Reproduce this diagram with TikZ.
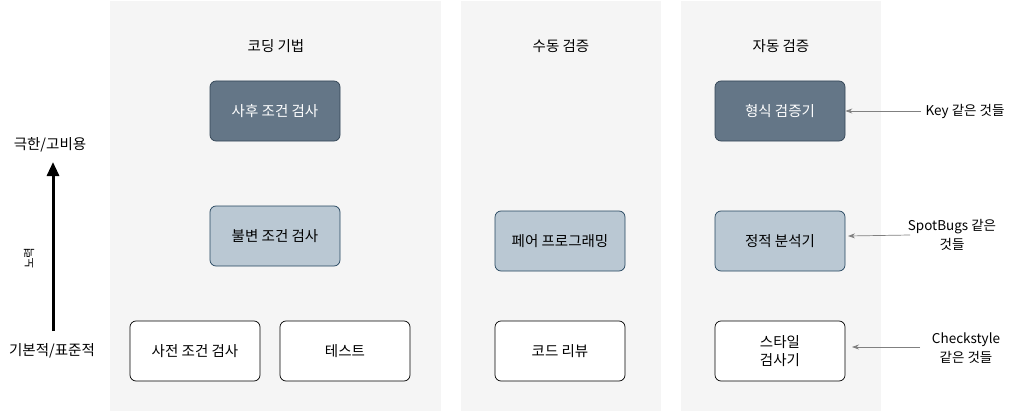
\documentclass[tikz,border=0pt]{standalone}
\usepackage{fontspec}
\setmainfont{Noto Sans CJK KR}
\usetikzlibrary{arrows.meta}
\definecolor{panelbg}{HTML}{F5F5F5}
\definecolor{darkfill}{HTML}{647687}
\definecolor{darkline}{HTML}{314354}
\definecolor{lightfill}{HTML}{BAC8D3}
\definecolor{lightline}{HTML}{23445D}
\definecolor{arrowgray}{HTML}{808080}
\tikzset{
  panel/.style={fill=panelbg, draw=none},
  box/.style={rounded corners=6pt, minimum width=130pt, minimum height=60pt, font=\fontsize{14.5}{18}\selectfont, align=center, line width=0.7pt},
  whitebox/.style={box, draw=black, fill=white},
  lightbox/.style={box, draw=lightline, fill=lightfill},
  darkbox/.style={box, draw=darkline, fill=darkfill, text=white},
  title/.style={font=\fontsize{14.5}{18}\selectfont},
  note/.style={font=\fontsize{13.5}{19}\selectfont, align=center},
  pointer/.style={draw=arrowgray, line width=0.7pt, -{Stealth[length=7pt,width=5pt]}},
}
\begin{document}
\begin{tikzpicture}[x=1pt,y=-1pt]
\useasboundingbox (0,0) rectangle (1012,412);
\fill[white] (0,0) rectangle (1012,412);
% panels
\fill[panel] (110,1) rectangle (441,411);
\fill[panel] (461,1) rectangle (661,411);
\fill[panel] (681,1) rectangle (881,411);
% titles
\node[title] (t1) at (276,46) {코딩 기법};
\node[title] (t2) at (561,46) {수동 검증};
\node[title] (t3) at (781,46) {자동 검증};
% boxes
\node[darkbox] (post) at (275,111) {사후 조건 검사};
\node[lightbox] (inv) at (275,236) {불변 조건 검사};
\node[whitebox] (pre) at (195,351) {사전 조건 검사};
\node[whitebox] (test) at (345,351) {테스트};
\node[lightbox] (pair) at (560,241) {페어 프로그래밍};
\node[whitebox] (review) at (560,351) {코드 리뷰};
\node[darkbox] (formal) at (780,111) {형식 검증기};
\node[lightbox] (static) at (780,241) {정적 분석기};
\node[whitebox] (style) at (780,351) {스타일\\검사기};
% notes
\node[note, inner sep=0pt] (keynote) at (965,111) {Key 같은 것들};
\node[note, inner sep=0pt] (sbnote) at (952,235) {SpotBugs 같은\\것들};
\node[note, inner sep=0pt] (csnote) at (966,348) {Checkstyle\\같은 것들};
\coordinate (keyfrom) at (921,111);
\coordinate (sbfrom) at (910,235);
\coordinate (csfrom) at (920,347);
\coordinate (sbto) at (848,236);
\coordinate (csto) at (852,347);
\draw[pointer] (keyfrom) -- (formal.east);
\draw[pointer] (sbfrom) -- (sbto);
\draw[pointer] (csfrom) -- (csto);
% effort axis
\node[title, inner sep=0pt] (high) at (50,145) {극한/고비용};
\node[title, inner sep=0pt] (low) at (52,351) {기본적/표준적};
\coordinate (axfrom) at (53,331);
\coordinate (axto) at (53,162);
\draw[line width=3pt, -{Triangle[length=14pt,width=12pt]}] (axfrom) -- (axto);
\node[font=\fontsize{11.5}{13}\selectfont, rotate=90] (effort) at (29,258) {노력};
\end{tikzpicture}
\end{document}
